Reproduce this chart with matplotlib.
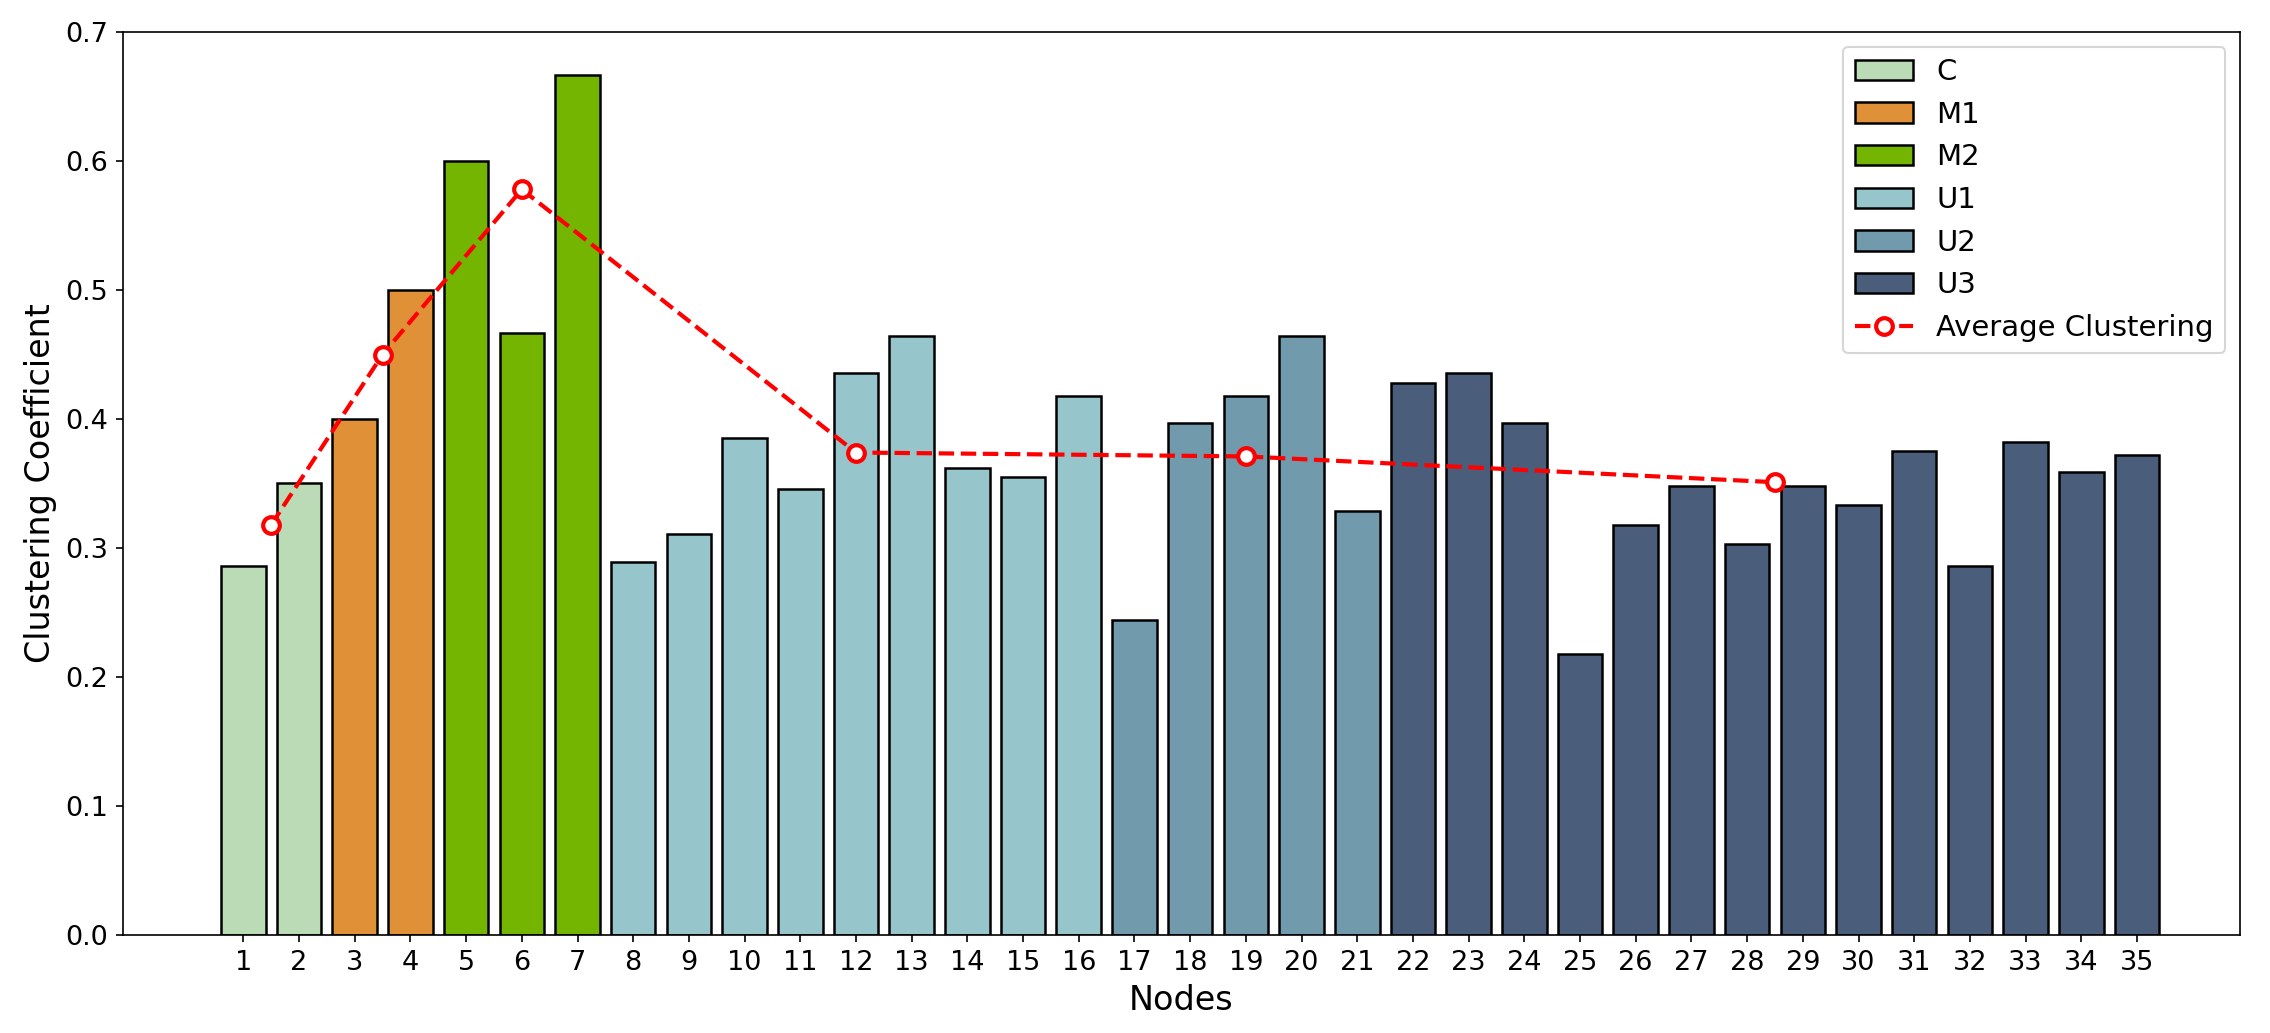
import matplotlib

matplotlib.use("Agg")
import matplotlib.pyplot as plt

# node ids and clustering coefficient per node
nodes = list(range(1, 36))
clustering = [
    0.286, 0.350, 0.400, 0.500, 0.600, 0.467, 0.667,
    0.289, 0.311, 0.385, 0.346, 0.436, 0.464, 0.362, 0.355, 0.418,
    0.244, 0.397, 0.418, 0.464, 0.329,
    0.428, 0.436, 0.397, 0.218, 0.318, 0.348, 0.303, 0.348, 0.333,
    0.375, 0.286, 0.382, 0.359, 0.372,
]
groups = ["C"] * 2 + ["M1"] * 2 + ["M2"] * 3 + ["U1"] * 9 + ["U2"] * 5 + ["U3"] * 14
group_names = ["C", "M1", "M2", "U1", "U2", "U3"]
group_colors = {
    "C": "#bbdbb6",
    "M1": "#e09137",
    "M2": "#73b501",
    "U1": "#96c6cc",
    "U2": "#719aac",
    "U3": "#4a5e7c",
}

# average clustering per group, placed at the group's mean node
avg_x = [1.5, 3.5, 6, 12, 19, 28.5]
avg_y = [0.318, 0.450, 0.578, 0.374, 0.371, 0.351]

fig = plt.figure(figsize=(2270 / 150, 1033 / 150), dpi=150)
ax = fig.add_axes([0.0542, 0.0949, 0.9326, 0.8741])

handles = {}
for n, v, g in zip(nodes, clustering, groups):
    b = ax.bar(n, v, width=0.8, color=group_colors[g], edgecolor="black", linewidth=1.2, label=g)
    handles.setdefault(g, b)

(line,) = ax.plot(avg_x, avg_y, color="red", linestyle="--", linewidth=2, marker="o",
                  markersize=8, markerfacecolor="white", markeredgecolor="red",
                  markeredgewidth=2, label="Average Clustering")

ax.set_xticks(nodes)
ax.set_xticklabels([str(n) for n in nodes])
ax.set_xlim(-1.16, 36.85)
ax.set_ylim(0, 0.7)
ax.tick_params(labelsize=13)
ax.set_xlabel("Nodes", fontsize=16)
ax.set_ylabel("Clustering Coefficient", fontsize=16)
ax.legend([handles[g] for g in group_names] + [line], group_names + ["Average Clustering"],
          loc="upper right", fontsize=14)

fig.savefig("out.png", dpi=150)
